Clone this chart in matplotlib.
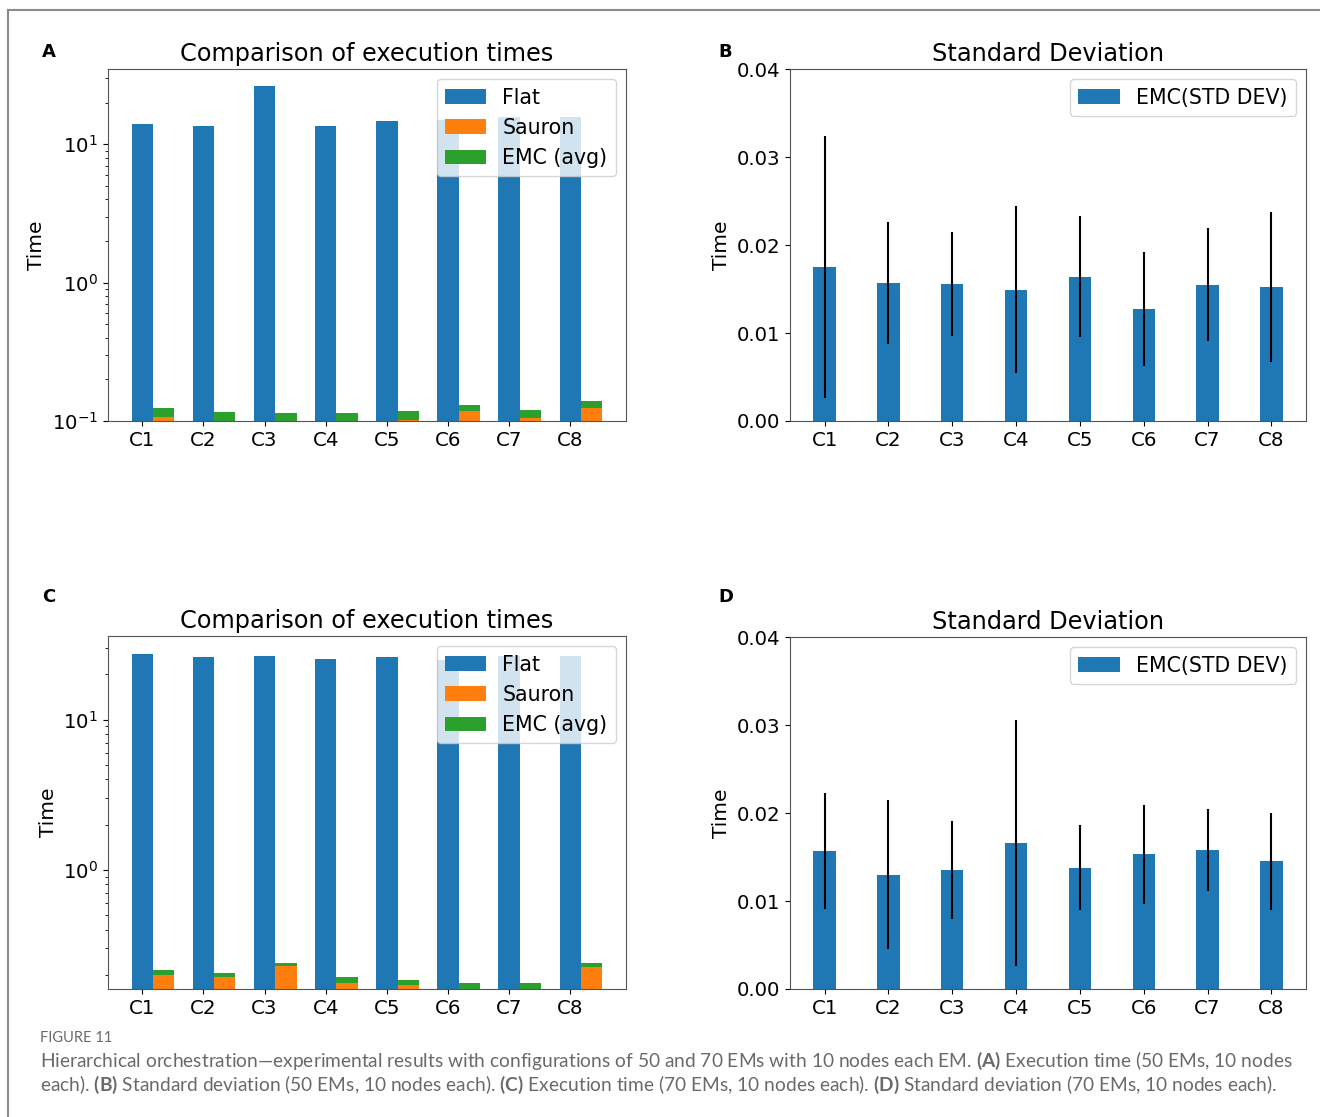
import numpy as np
import matplotlib
matplotlib.use("Agg")
import matplotlib.pyplot as plt
from matplotlib.lines import Line2D

plt.rcParams['font.family'] = ['DejaVu Sans']
plt.rcParams['mathtext.fontset'] = 'custom'
plt.rcParams['mathtext.rm'] = 'Lato'
plt.rcParams['mathtext.bf'] = 'Lato:bold'

# 数据
configs = ["C1", "C2", "C3", "C4", "C5", "C6", "C7", "C8"]

# 50 EMs
flat_50 = [14.0, 13.5, 26.4, 13.5, 14.7, 14.9, 15.7, 15.7]
emc_avg_50 = [0.0175, 0.0157, 0.0156, 0.0149, 0.0164, 0.0127, 0.0155, 0.0152]
sauron_50 = [0.106, 0.0995, 0.0995, 0.0995, 0.1025, 0.118, 0.1045, 0.125]
emc_std_50 = [0.0149, 0.0069, 0.0059, 0.0095, 0.0069, 0.0065, 0.0064, 0.0085]

# 70 EMs
flat_70 = [27.5, 26.3, 26.7, 25.5, 26.3, 25.1, 26.7, 26.7]
emc_avg_70 = [0.0157, 0.0130, 0.0135, 0.0166, 0.0138, 0.0153, 0.0158, 0.0145]
sauron_70 = [0.1995, 0.193, 0.228, 0.176, 0.170, 0.1605, 0.161, 0.226]
emc_std_70 = [0.0066, 0.0085, 0.0056, 0.0140, 0.0048, 0.0056, 0.0047, 0.0055]

x = np.arange(len(configs))
w = 0.35

fig = plt.figure(figsize=(13.2, 11.17), dpi=100)

# 外框线
fig.add_artist(Line2D([8 / 1320, 8 / 1320], [0, 1 - 10 / 1117], color='#8a8a8a', lw=1.5,
                      transform=fig.transFigure))
fig.add_artist(Line2D([8 / 1320, 1], [1 - 10 / 1117, 1 - 10 / 1117], color='#8a8a8a', lw=1.5,
                      transform=fig.transFigure))

axA = fig.add_axes([0.0818, 0.6231, 0.3924, 0.3151])
axB = fig.add_axes([0.5985, 0.6231, 0.3909, 0.3151])
axC = fig.add_axes([0.0818, 0.1146, 0.3924, 0.3160])
axD = fig.add_axes([0.5985, 0.1146, 0.3909, 0.3151])


def time_panel(ax, flat, sauron, emc, ylim):
    ax.bar(x, flat, w, color='#1f77b4', label='Flat')
    ax.bar(x + w, sauron, w, color='#ff7f0e', label='Sauron')
    ax.bar(x + w, emc, w, bottom=sauron, color='#2ca02c', label='EMC (avg)')
    ax.set_yscale('log')
    ax.set_ylim(*ylim)
    ax.set_xticks(x)
    ax.set_xticklabels(configs)
    ax.set_ylabel('Time', fontsize=14.5)
    ax.set_title('Comparison of execution times', fontsize=17.3)
    ax.legend(loc='upper right', fontsize=14.8)
    ax.tick_params(labelsize=14.2)


def std_panel(ax, avg, std):
    ax.bar(x, avg, w, yerr=std, color='#1f77b4', ecolor='black', label='EMC(STD DEV)')
    ax.set_ylim(0, 0.04)
    ax.set_yticks([0, 0.01, 0.02, 0.03, 0.04])
    ax.set_xticks(x)
    ax.set_xticklabels(configs)
    ax.set_ylabel('Time', fontsize=14.5)
    ax.set_title('Standard Deviation', fontsize=17.3)
    ax.legend(loc='upper right', fontsize=14.8)
    ax.tick_params(labelsize=14.2)


time_panel(axA, flat_50, sauron_50, emc_avg_50, (0.1, 35))
std_panel(axB, emc_avg_50, emc_std_50)
time_panel(axC, flat_70, sauron_70, emc_avg_70, (0.161, 36))
std_panel(axD, emc_avg_70, emc_std_70)

for ax in (axA, axB, axC, axD):
    for s in ax.spines.values():
        s.set_color('#555555')

# 面板字母
for lab, px, py in [('A', 42, 52), ('B', 718, 52), ('C', 42, 597), ('D', 718, 597)]:
    fig.text(px / 1320, 1 - py / 1117, lab, fontsize=13, fontweight='bold', va='center')

fig.text(40 / 1320, 1 - 1038 / 1117, 'FIGURE 11', fontsize=10.5, color='#6a6a6a',
         va='center', family='Lato')
cap1 = (r'Hierarchical orchestration—experimental results with configurations of 50 and 70 EMs '
        r'with 10 nodes each EM. $\mathbf{(A)}$ Execution time (50 EMs, 10 nodes')
cap2 = (r'each). $\mathbf{(B)}$ Standard deviation (50 EMs, 10 nodes each). $\mathbf{(C)}$ '
        r'Execution time (70 EMs, 10 nodes each). $\mathbf{(D)}$ Standard deviation (70 EMs, 10 nodes each).')
fig.text(40 / 1320, 1 - 1061 / 1117, cap1, fontsize=13.8, color='#6a6a6a', va='center', family='Lato')
fig.text(40 / 1320, 1 - 1085 / 1117, cap2, fontsize=13.8, color='#6a6a6a', va='center', family='Lato')

fig.savefig('out.png', dpi=100)
